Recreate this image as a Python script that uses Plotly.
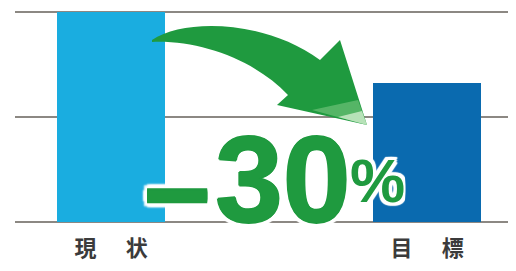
import plotly.graph_objects as go

# ---- data ----
categories = ["現\u3000\u2004状", "目\u3000\u2004標"]
values = [100, 66]
bar_colors = ["#1aade0", "#0a6aaf"]
change_label = "30"
change_sign = "\u2212"
change_unit = "%"

# ---- layout constants ----
# the page body has an 8px default margin, so the figure is drawn 8px in
OFF = 8
W, H = 500, 255
ML, MR, MT, MB = 7, 0, 2, 41
XR = [-0.304, 1.256]
YR = [0, 101]
PW, PH = W - ML - MR, H - MT - MB


def dx(p):
    p = p - OFF
    return XR[0] + (p - ML) / PW * (XR[1] - XR[0])


def dy(p):
    p = p - OFF
    return YR[0] + (H - MB - p) / PH * (YR[1] - YR[0])


def P(x, y):
    return f"{dx(x):.4f},{dy(y):.4f}"


GREEN = "#1f9a3f"
GRID = "#8c8883"

fig = go.Figure()
fig.add_trace(go.Bar(
    x=[0, 1], y=values, width=0.34,
    marker=dict(color=bar_colors, line=dict(width=0)),
    hoverinfo="skip",
))

arrow_path = (
    f"M {P(152,40)} C {P(185,18)} {P(265,20)} {P(320,60)} "
    f"L {P(340,40)} L {P(367,125)} L {P(277,105)} L {P(288,95)} "
    f"C {P(255,60)} {P(200,40)} {P(152,42)} Z"
)
highlight_path = f"M {P(312,110)} L {P(367,125)} L {P(358,100)} Z"
highlight2_path = f"M {P(338,117)} L {P(367,125)} L {P(362,111)} Z"

shapes = [
    dict(type="path", path=arrow_path, xref="x", yref="y",
         fillcolor=GREEN, line=dict(width=0), layer="above"),
    dict(type="path", path=highlight_path, xref="x", yref="y",
         fillcolor="rgba(150,215,150,0.45)", line=dict(width=0), layer="above"),
    dict(type="path", path=highlight2_path, xref="x", yref="y",
         fillcolor="rgba(225,245,220,0.7)", line=dict(width=0), layer="above"),
]

W_ = "#ffffff"
outline = ", ".join(
    f"{a}px {b}px 1px {W_}" for a, b in
    [(4, 0), (-4, 0), (0, 4), (0, -4), (3, 3), (-3, 3), (3, -3), (-3, -3),
     (2, 4), (-2, 4), (2, -4), (-2, -4), (4, 2), (-4, 2), (4, -2), (-4, -2)]
)
thick = ", ".join(f"{a}px {b}px 0 {GREEN}" for a, b in [(1, 0), (-1, 0), (0, 1), (0, -1)])
digit_shadow = thick + ", " + outline

dash_green = ", ".join(f"0px {b}px 0 {GREEN}" for b in [1, 2, -1, -2])
dash_white = ", ".join(
    f"{a}px {b}px 2px {W_}" for a, b in
    [(4, 0), (-4, 0), (0, 6), (0, -6), (3, 5), (-3, 5), (3, -5), (-3, -5)]
)
dash_shadow = dash_green + ", " + dash_white

FONT = "Liberation Sans, Arial, sans-serif"
annotations = [
    dict(x=dx(177), y=dy(193), xref="x", yref="y", text=change_sign,
         showarrow=False, xanchor="center", yanchor="middle",
         height=44, valign="middle",
         font=dict(family="DejaVu Sans", size=96, color=GREEN, weight="bold",
                   shadow=dash_shadow)),
    dict(x=dx(283), y=dy(180), xref="x", yref="y", text=change_label,
         showarrow=False, xanchor="center", yanchor="middle",
         height=106, valign="middle",
         font=dict(family=FONT, size=122, color=GREEN, weight="bold",
                   shadow=digit_shadow)),
    dict(x=dx(377), y=dy(180), xref="x", yref="y", text=change_unit,
         showarrow=False, xanchor="center", yanchor="middle",
         height=58, valign="middle",
         font=dict(family=FONT, size=62, color=GREEN, weight="bold",
                   shadow=outline.replace("4px", "3px"))),
]

fig.update_layout(
    width=W, height=H,
    margin=dict(l=ML, r=MR, t=MT, b=MB, pad=0),
    paper_bgcolor="white", plot_bgcolor="white",
    showlegend=False, bargap=0,
    shapes=shapes, annotations=annotations,
    xaxis=dict(range=XR, tickvals=[0, 1], ticktext=categories,
               showgrid=False, zeroline=False, showline=False, ticks="",
               ticklabelstandoff=11,
               tickfont=dict(family="Noto Sans CJK JP", size=22,
                             color="#3b3b3b", weight="bold")),
    yaxis=dict(range=YR, tickvals=[0, 50, 100], showticklabels=False,
               showgrid=True, gridcolor=GRID, gridwidth=2,
               zeroline=True, zerolinecolor=GRID, zerolinewidth=2,
               showline=False, ticks=""),
)

fig.write_html("out.html")
